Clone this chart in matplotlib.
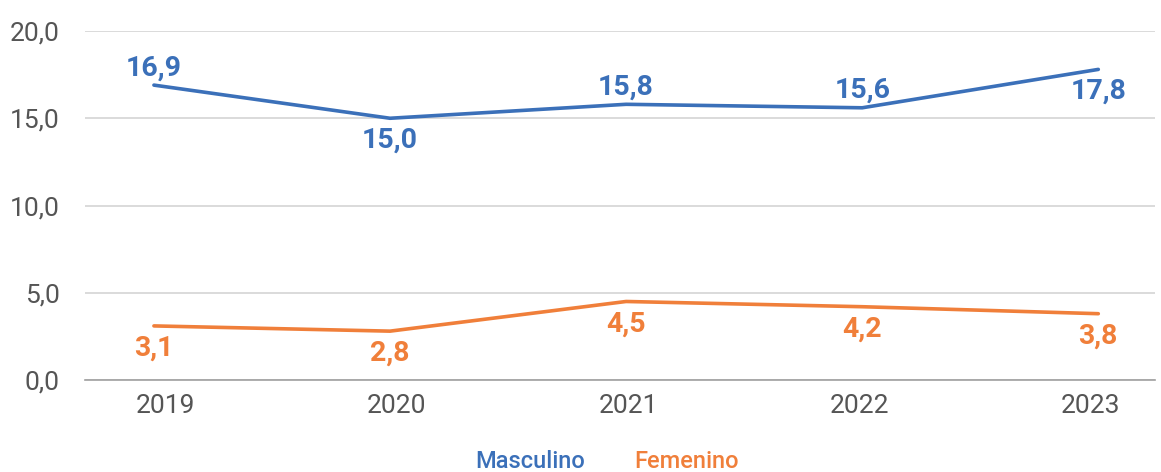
import matplotlib.pyplot as plt

# dados
anos = ['2019', '2020', '2021', '2022', '2023']
masculino = [16.9, 15.0, 15.8, 15.6, 17.8]
feminino = [3.1, 2.8, 4.5, 4.2, 3.8]
# posição do rótulo: 1 = acima, -1 = abaixo
pos_masc = [1, -1, 1, 1, -1]
pos_fem = [-1, -1, -1, -1, -1]

azul = '#3b70b9'
laranja = '#f07f3a'
cinza = '#555555'

plt.rcParams['font.family'] = ['Roboto', 'DejaVu Sans']

fig = plt.figure(figsize=(11.61, 4.72), dpi=100)
ax = fig.add_axes([0.0732, 0.1949, 0.9216, 0.7394])

x = list(range(len(anos)))
ax.plot(x, masculino, color=azul, lw=2.6, solid_capstyle='round')
ax.plot(x, feminino, color=laranja, lw=2.6, solid_capstyle='round')

def rotulos(vals, pos, cor):
    for i, v in enumerate(vals):
        off = 12.5 if pos[i] > 0 else -16
        ax.annotate(f'{v:.1f}'.replace('.', ','), (i, v), xytext=(0, off),
                    textcoords='offset points', ha='center', va='center',
                    color=cor, fontsize=20.5, fontweight='bold')

rotulos(masculino, pos_masc, azul)
rotulos(feminino, pos_fem, laranja)

ax.set_ylim(0, 20)
ax.set_xlim(-0.292, 4.24)
ax.set_yticks([0, 5, 10, 15, 20])
ax.set_yticklabels(['0,0', '5,0', '10,0', '15,0', '20,0'])
# no original os rótulos dos anos ficam um pouco deslocados dos pontos
ax.set_xticks([0.05 + 0.979 * i for i in x])
ax.set_xticklabels(anos)
ax.tick_params(axis='both', length=0, labelsize=19, labelcolor=cinza)
ax.tick_params(axis='y', pad=18)
ax.tick_params(axis='x', pad=10)

ax.grid(axis='y', color='#d4d4d4', lw=1.2)
ax.set_axisbelow(True)
for s in ['top', 'right', 'left']:
    ax.spines[s].set_visible(False)
ax.spines['bottom'].set_color('#a0a0a0')
ax.spines['bottom'].set_linewidth(1.2)

# legenda só com texto colorido
fig.text(0.457, 0.023, 'Masculino', color=azul, fontsize=17, ha='center', va='center', fontweight='medium')
fig.text(0.591, 0.023, 'Femenino', color=laranja, fontsize=17, ha='center', va='center', fontweight='medium')

fig.savefig('out.png', dpi=100)
